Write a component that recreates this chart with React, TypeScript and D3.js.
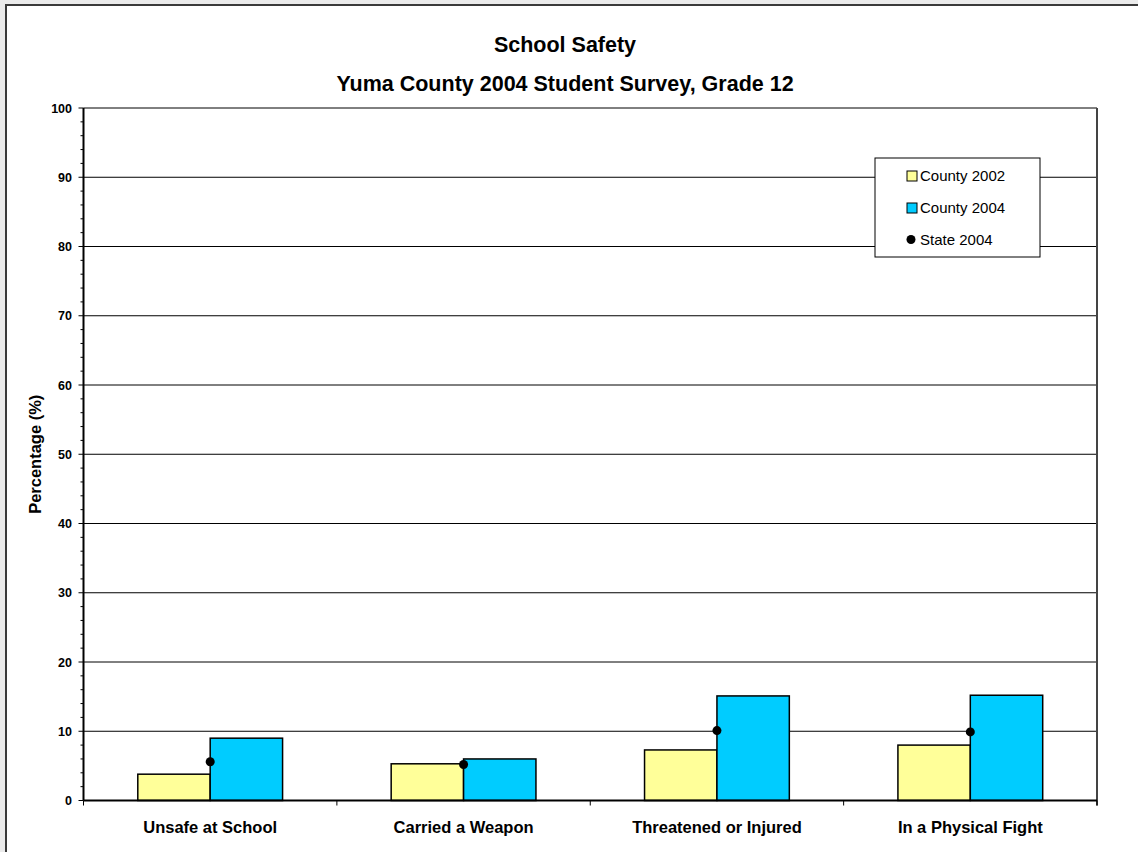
import React from "react";
import * as d3 from "d3";

const categories = ["Unsafe at School", "Carried a Weapon", "Threatened or Injured", "In a Physical Fight"];
const county2002 = [3.8, 5.3, 7.3, 8.0];
const county2004 = [9.0, 6.0, 15.1, 15.2];
const state2004 = [5.6, 5.2, 10.1, 9.9];
const yTicks = [0, 10, 20, 30, 40, 50, 60, 70, 80, 90, 100];
const titleLine1 = "School Safety";
const titleLine2 = "Yuma County 2004 Student Survey, Grade 12";
const yAxisTitle = "Percentage (%)";
const legendItems = [
  { label: "County 2002", kind: "bar", color: "#FFFF99" },
  { label: "County 2004", kind: "bar", color: "#00CCFF" },
  { label: "State 2004", kind: "dot", color: "#000000" },
];

const W = 1138;
const H = 852;
const FONT = "Arial, 'Liberation Sans', Helvetica, sans-serif";

export default function App() {
  const left = 83.5, right = 1097, top = 108, bottom = 800.5;
  const x = d3.scaleBand<string>().domain(categories).range([left, right]).paddingInner(0).paddingOuter(0);
  const y = d3.scaleLinear().domain([0, 100]).range([bottom, top]);
  const bw = x.bandwidth();
  const groupW = bw / 1.75;
  const barW = groupW / 2;
  const minor = d3.range(0, 101, 2).filter((v) => v % 10 !== 0);
  const titleX = 565;

  return (
    <svg width={W} height={H} style={{ position: "absolute", left: 0, top: 0, display: "block" }} fontFamily={FONT}>
      <rect x={0} y={0} width={W} height={H} fill="#ebebeb" />
      <rect x={6} y={5} width={W + 20} height={H + 20} fill="#ffffff" stroke="#3a3a3a" strokeWidth={2} />
      <text x={titleX} y={52} textAnchor="middle" fontWeight="bold" fontSize={21.5} fill="#000">{titleLine1}</text>
      <text x={titleX} y={91} textAnchor="middle" fontWeight="bold" fontSize={21.5} fill="#000">{titleLine2}</text>

      {/* gridlines */}
      {yTicks.filter((t) => t > 0).map((t) => (
        <line key={"g" + t} x1={left} x2={right} y1={y(t)} y2={y(t)} stroke="#000" strokeWidth={1} />
      ))}
      <line x1={right} x2={right} y1={top} y2={bottom + 5} stroke="#444" strokeWidth={2} />

      {/* bars */}
      {categories.map((c, i) => {
        const cx = (x(c) as number) + bw / 2;
        return (
          <g key={c}>
            <rect x={cx - barW} y={y(county2002[i])} width={barW} height={y(0) - y(county2002[i])} fill="#FFFF99" stroke="#000" strokeWidth={1.5} />
            <rect x={cx} y={y(county2004[i])} width={barW} height={y(0) - y(county2004[i])} fill="#00CCFF" stroke="#000" strokeWidth={1.5} />
            <circle cx={cx} cy={y(state2004[i])} r={4.5} fill="#000" />
          </g>
        );
      })}

      {/* y axis */}
      <line x1={left} x2={left} y1={top} y2={bottom} stroke="#000" strokeWidth={2} />
      {yTicks.map((t) => (
        <g key={"t" + t}>
          <line x1={left - 5} x2={left} y1={y(t)} y2={y(t)} stroke="#000" strokeWidth={1} />
          <text x={left - 11.5} y={y(t)} dy="0.36em" textAnchor="end" fontWeight="bold" fontSize={12.5} fill="#000">{t}</text>
        </g>
      ))}
      {minor.map((t) => (
        <line key={"m" + t} x1={left - 3} x2={left} y1={y(t)} y2={y(t)} stroke="#000" strokeWidth={1} />
      ))}
      <text transform={`translate(41,${(top + bottom) / 2}) rotate(-90)`} textAnchor="middle" fontWeight="bold" fontSize={16.5} fill="#000">{yAxisTitle}</text>

      {/* x axis */}
      <line x1={left} x2={right} y1={bottom} y2={bottom} stroke="#000" strokeWidth={2} />
      {categories.map((c) => (
        <line key={"xt" + c} x1={x(c) as number} x2={x(c) as number} y1={bottom} y2={bottom + 5} stroke="#000" strokeWidth={1} />
      ))}
      <line x1={right} x2={right} y1={bottom} y2={bottom + 5} stroke="#000" strokeWidth={1} />
      {categories.map((c) => (
        <text key={"xl" + c} x={(x(c) as number) + bw / 2} y={833} textAnchor="middle" fontWeight="bold" fontSize={16.5} fill="#000">{c}</text>
      ))}

      {/* legend */}
      <rect x={875} y={158} width={165} height={99} fill="#fff" stroke="#000" strokeWidth={1} />
      {legendItems.map((it, i) => {
        const cy = 176 + i * 32;
        return (
          <g key={it.label}>
            {it.kind === "bar" ? (
              <rect x={907} y={cy - 5} width={10} height={10} fill={it.color} stroke="#000" strokeWidth={1} />
            ) : (
              <circle cx={911} cy={cy - 0.5} r={4.5} fill={it.color} />
            )}
            <text x={920} y={cy} dy="0.36em" fontSize={15} fill="#000">{it.label}</text>
          </g>
        );
      })}
    </svg>
  );
}
